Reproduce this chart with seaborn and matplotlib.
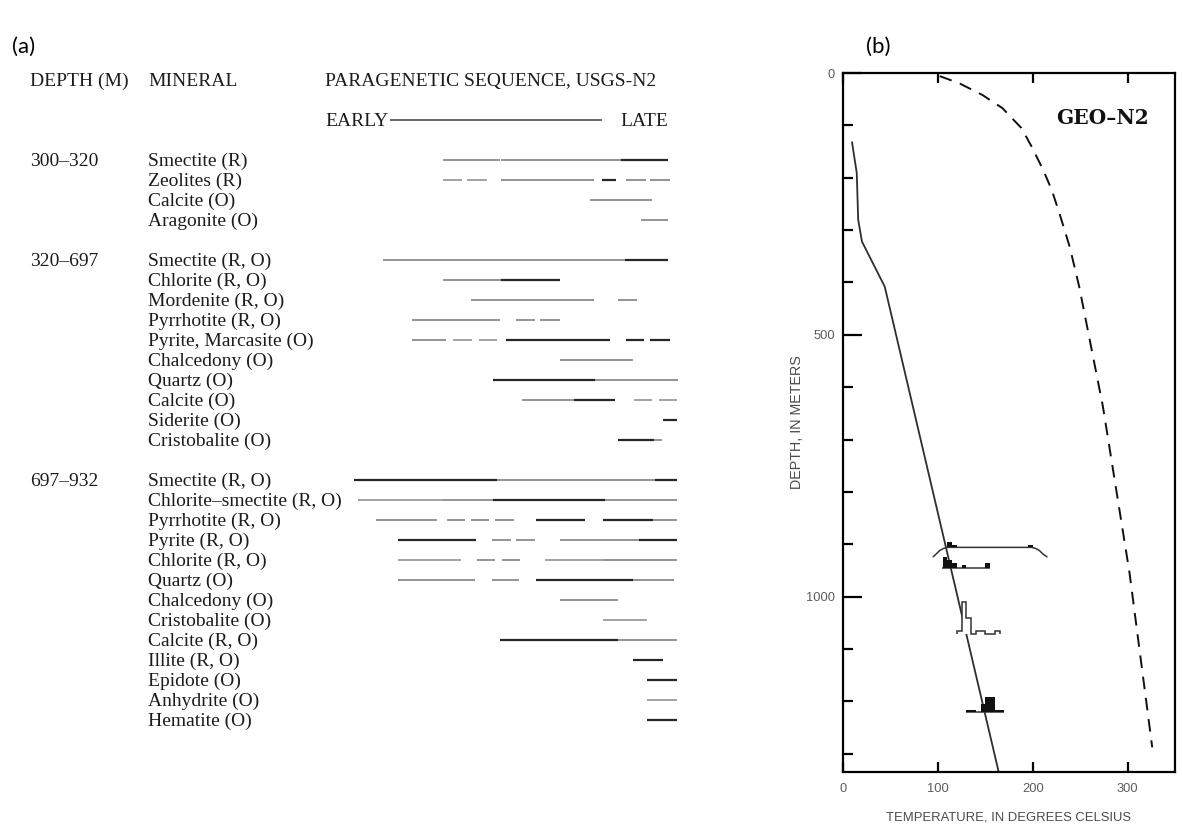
import matplotlib
matplotlib.use("Agg")
import matplotlib.pyplot as plt
import matplotlib.transforms as mtransforms
import numpy as np
import seaborn as sns

# ------------------------------------------------------------------
# Panel (a): paragenetic sequence, USGS-N2
# timeline scale: 0 = earliest, 100 = latest
# ------------------------------------------------------------------
depth_ranges = ["300–320", "320–697", "697–932"]

minerals_300_320 = ["Smectite (R)", "Zeolites (R)", "Calcite (O)", "Aragonite (O)"]
minerals_320_697 = ["Smectite (R, O)", "Chlorite (R, O)", "Mordenite (R, O)",
                    "Pyrrhotite (R, O)", "Pyrite, Marcasite (O)", "Chalcedony (O)",
                    "Quartz (O)", "Calcite (O)", "Siderite (O)", "Cristobalite (O)"]
minerals_697_932 = ["Smectite (R, O)", "Chlorite–smectite (R, O)", "Pyrrhotite (R, O)",
                    "Pyrite (R, O)", "Chlorite (R, O)", "Quartz (O)", "Chalcedony (O)",
                    "Cristobalite (O)", "Calcite (R, O)", "Illite (R, O)",
                    "Epidote (O)", "Anhydrite (O)", "Hematite (O)"]

# (start, end, kind)  kind: k = dark, g = grey, l = light grey
segments_300_320 = [
    [(27.5, 45.0, "g"), (45.5, 82.5, "g"), (82.5, 97.0, "k")],
    [(27.5, 33.3, "l"), (35.0, 41.0, "l"), (45.5, 74.0, "g"), (76.5, 81.0, "k"),
     (84.0, 90.0, "g"), (91.5, 97.5, "g")],
    [(73.0, 92.0, "g")],
    [(88.5, 97.0, "g")],
]
segments_320_697 = [
    [(9.0, 83.5, "g"), (83.5, 97.0, "k")],
    [(27.5, 45.5, "g"), (45.5, 63.5, "k")],
    [(36.0, 74.0, "g"), (81.5, 87.5, "g")],
    [(18.0, 45.0, "g"), (50.0, 56.0, "g"), (57.5, 63.5, "g")],
    [(18.0, 28.5, "g"), (30.5, 36.5, "l"), (38.5, 44.0, "l"), (47.0, 79.0, "k"),
     (84.0, 89.5, "k"), (91.5, 97.5, "k")],
    [(63.5, 86.0, "g")],
    [(43.0, 74.5, "k"), (74.5, 100.0, "g")],
    [(52.0, 68.0, "g"), (68.0, 80.5, "k"), (86.5, 92.0, "l"), (94.0, 99.7, "l")],
    [(95.5, 99.7, "k")],
    [(81.5, 92.5, "k"), (92.5, 95.0, "g")],
]
segments_697_932 = [
    [(0.0, 44.0, "k"), (44.0, 93.0, "g"), (93.0, 99.7, "k")],
    [(1.2, 27.5, "l"), (27.5, 43.0, "g"), (43.0, 77.5, "k"), (77.5, 99.7, "g")],
    [(6.8, 25.6, "g"), (28.7, 34.3, "g"), (36.1, 41.7, "g"), (43.5, 49.4, "g"),
     (56.2, 71.3, "k"), (76.9, 92.3, "k"), (92.3, 99.7, "g")],
    [(13.6, 37.7, "k"), (42.6, 48.5, "g"), (50.0, 56.0, "g"), (63.6, 88.0, "g"),
     (88.0, 99.7, "k")],
    [(13.6, 33.0, "l"), (38.0, 43.5, "g"), (45.7, 51.2, "g"), (59.0, 77.0, "l"),
     (77.0, 99.7, "g")],
    [(13.6, 37.5, "g"), (42.6, 51.0, "g"), (56.2, 86.0, "k"), (86.0, 98.8, "g")],
    [(63.6, 81.5, "g")],
    [(76.9, 90.4, "l")],
    [(45.1, 81.5, "k"), (81.5, 99.7, "g")],
    [(86.1, 95.4, "k")],
    [(90.4, 99.7, "k")],
    [(90.4, 99.7, "l")],
    [(90.4, 99.7, "k")],
]
early_late_span = (11.0, 76.5)

# ------------------------------------------------------------------
# Panel (b): GEO-N2 temperature profile
# ------------------------------------------------------------------
measured_temp = [9.5, 14.5, 16.0, 20.0, 44.0, 164.0]
measured_depth = [132, 191, 280, 322, 408, 1334]
boiling_temp = [102, 123, 147, 168, 188, 199, 211, 220, 228, 239, 249, 274, 302, 326]
boiling_depth = [6, 20, 42, 67, 105, 141, 185, 223, 267, 332, 408, 637, 954, 1288]

# fluid-inclusion histograms (5 degC bins, counts)
hist1_depth = 906
hist1_left = [110, 115, 195]
hist1_counts = [2, 1, 1]
hist1_range_temp = [95, 98, 102, 106, 110, 199, 203, 207, 211, 215]
hist1_range_depth = [924, 919, 912, 908, 906, 906, 908, 912, 919, 924]

hist2_depth = 945
hist2_left = [105, 110, 115, 125, 150]
hist2_counts = [4, 3, 2, 1, 2]
hist2_span = (104, 155)

hist3_depth = 1071
hist3_edges = [120, 125, 130, 135, 140, 145, 150, 155, 160, 165]
hist3_counts = [1, 12, 6, 0, 1, 1, 0, 0, 1]

hist4_depth = 1221
hist4_edges = [130, 135, 140, 145, 150, 155, 160, 165, 170]
hist4_counts = [1, 1, 0, 3, 6, 6, 1, 1]

count_unit = 5.0  # metres of depth per count

# ------------------------------------------------------------------
sns.set_theme(style="white")
plt.rcParams["font.family"] = ["Liberation Serif", "DejaVu Serif"]

W, H = 1182, 825
fig = plt.figure(figsize=(W / 100, H / 100), dpi=100)
fig.patch.set_facecolor("white")

# ---------------- panel (a) ----------------
axa = fig.add_axes([300 / W, 1 - 730 / H, 400 / W, 660 / H])
axa.set_xlim(-16.67, 106.8)
axa.set_ylim(28.5, -4.5)
axa.axis("off")

styles = {
    "k": dict(color="#262626", lw=1.6),
    "g": dict(color="#777777", lw=1.1),
    "l": dict(color="#a3a3a3", lw=1.4),
}
tcol = "#1c1c1c"
fs = 14
base_off = 0.3  # baseline offset below row centre (row units)
bt = mtransforms.blended_transform_factory(fig.transFigure, axa.transData)


def put(xpx, row_pos, s):
    axa.text(xpx / W, row_pos + base_off, s, transform=bt, fontsize=fs,
             color=tcol, va="baseline", ha="left")


put(30, -4, "DEPTH (M)")
put(148, -4, "MINERAL")
put(325, -4, "PARAGENETIC SEQUENCE, USGS-N2")
put(325, -2, "EARLY")
put(620, -2, "LATE")
axa.hlines(-2, early_late_span[0], early_late_span[1], color="#3a3a3a", lw=1.1)

groups = [
    (depth_ranges[0], minerals_300_320, segments_300_320),
    (depth_ranges[1], minerals_320_697, segments_320_697),
    (depth_ranges[2], minerals_697_932, segments_697_932),
]
row = 0
for depth_label, names, segs in groups:
    put(30, row, depth_label)
    for name, seglist in zip(names, segs):
        put(148, row, name)
        for (s, e, kind) in seglist:
            axa.hlines(row, s, e, **styles[kind])
        row += 1
    row += 1

# ---------------- panel (b) ----------------
axb = fig.add_axes([843 / W, 1 - 772 / H, 332 / W, 699 / H])
axb.set_xlim(0, 350)
axb.set_ylim(1335, 0)

sns.lineplot(x=measured_temp, y=measured_depth, sort=False, estimator=None,
             ax=axb, color="#2e2e2e", lw=1.3, zorder=2)
sns.lineplot(x=boiling_temp, y=boiling_depth, sort=False, estimator=None,
             ax=axb, color="#111111", lw=1.4, zorder=2)
axb.lines[-1].set_linestyle((0, (6.5, 4.5)))

hist_black = "#101010"
# histogram 1 with range bracket
axb.plot(hist1_range_temp, hist1_range_depth, color="#333333", lw=1.1, zorder=3)
axb.bar(hist1_left, [-c * count_unit for c in hist1_counts], width=5, align="edge",
        bottom=hist1_depth, color=hist_black, lw=0, zorder=4)
# histogram 2
axb.hlines(hist2_depth, hist2_span[0], hist2_span[1], color="#333333", lw=1.1, zorder=3)
axb.bar(hist2_left, [-c * count_unit for c in hist2_counts], width=5, align="edge",
        bottom=hist2_depth, color=hist_black, lw=0, zorder=4)
# histogram 3 (open)
h3_vals = [hist3_depth - c * count_unit for c in hist3_counts]
axb.stairs(h3_vals, hist3_edges, baseline=hist3_depth, fill=True,
           facecolor="white", zorder=4)
axb.stairs(h3_vals, hist3_edges, baseline=hist3_depth, fill=False,
           edgecolor="#333333", lw=1.1, zorder=5)
# histogram 4
h4_vals = [hist4_depth - c * count_unit for c in hist4_counts]
axb.hlines(hist4_depth, hist4_edges[0], hist4_edges[-1], color="#333333", lw=1.1, zorder=3)
axb.stairs(h4_vals, hist4_edges, baseline=hist4_depth, fill=True,
           color=hist_black, zorder=4)

axb.text(0.642, 0.936, "GEO–N2", transform=axb.transAxes, fontsize=14.5,
         fontweight="bold", ha="left", va="center", color="#111111",
         family=["DejaVu Serif"])

for sp in axb.spines.values():
    sp.set_visible(True)
    sp.set_color("black")
    sp.set_linewidth(1.6)

axb.set_yticks([0, 500, 1000])
axb.set_yticks([100, 200, 300, 400, 600, 700, 800, 900, 1100, 1200, 1300], minor=True)
axb.set_xticks([0, 100, 200, 300])
axb.tick_params(axis="y", which="major", direction="in", length=14, width=1.6,
                left=True, right=False, pad=6, labelsize=9.3, labelcolor="#5c5c5c",
                color="black")
axb.tick_params(axis="y", which="minor", direction="in", length=7, width=1.6,
                left=True, right=False, color="black")
axb.tick_params(axis="x", which="major", direction="in", length=7, width=1.6,
                top=True, bottom=True, labeltop=False, pad=8, labelsize=9.3,
                labelcolor="#5c5c5c", color="black")
for lab in axb.get_xticklabels() + axb.get_yticklabels():
    lab.set_family(["Liberation Sans", "DejaVu Sans"])

axb.set_xlabel("TEMPERATURE, IN DEGREES CELSIUS", fontsize=9.4, color="#4a4a4a",
               labelpad=12, family=["Liberation Sans", "DejaVu Sans"])
axb.set_ylabel("DEPTH, IN METERS", fontsize=10.3, color="#4a4a4a", labelpad=1,
               family=["Liberation Sans", "DejaVu Sans"])
axb.grid(False)

# panel labels
fig.text(12 / W, 1 - 47 / H, "(a)", fontsize=16, va="center", ha="left",
         family=["Lato", "DejaVu Sans"], color="black")
fig.text(866 / W, 1 - 47 / H, "(b)", fontsize=16, va="center", ha="left",
         family=["Lato", "DejaVu Sans"], color="black")

fig.savefig("out.png", dpi=100, facecolor="white")
